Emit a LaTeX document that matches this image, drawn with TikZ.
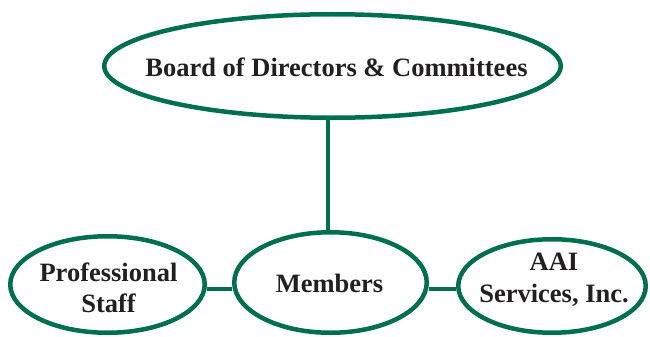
\documentclass[tikz,border=0pt]{standalone}
\usepackage{fontspec}
\setmainfont{Liberation Serif}
\usetikzlibrary{shapes.geometric}
\definecolor{aaigreen}{RGB}{0,111,79}
\definecolor{txt}{RGB}{35,31,32}
\begin{document}
\begin{tikzpicture}[x=1pt,y=-1pt,
  oval/.style={ellipse, draw=aaigreen, line width=4.5pt, inner sep=0pt},
  lbl/.style={text=txt, font=\fontsize{26.5}{31.5}\selectfont\bfseries, align=center, inner sep=0pt},
  link/.style={draw=aaigreen, line width=4.5pt}]
\useasboundingbox (0,0) rectangle (650,337);
\node[oval, minimum width=456.5pt, minimum height=103.5pt] (board) at (332.5,66) {};
\node[oval, minimum width=194.5pt, minimum height=96.5pt] (prof) at (107.5,284.5) {};
\node[oval, minimum width=192.5pt, minimum height=100.5pt] (mem) at (330.5,282.5) {};
\node[oval, minimum width=187.5pt, minimum height=93.5pt] (aai) at (552,286) {};
\node[lbl] (tboard) at (336.5,67) {Board of Directors \& Committees};
\node[lbl] (tprof) at (108.5,288) {Professional\\Staff};
\node[lbl] (tmem) at (329.5,283) {Members};
\node[lbl] (taai) at (554,280) {AAI\\Services, Inc.};
\coordinate (cy) at (0,289);
\coordinate (vx) at (328,0);
\draw[link] (board.south -| vx) -- (mem.north -| vx);
\draw[link] (prof.east |- cy) -- (mem.west |- cy);
\draw[link] (mem.east |- cy) -- (aai.west |- cy);
\end{tikzpicture}
\end{document}
